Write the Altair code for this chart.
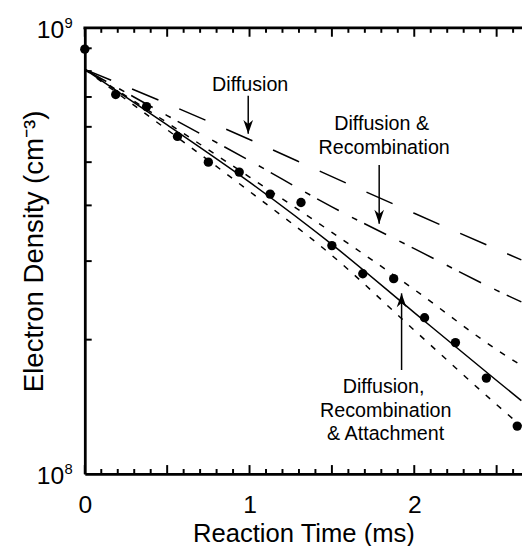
import altair as alt
import pandas as pd

# ---------------- data ----------------
obs_time = [0, 0.1875, 0.375, 0.5625, 0.75, 0.9375, 1.125, 1.3125, 1.5,
            1.6875, 1.875, 2.0625, 2.25, 2.4375, 2.625]
obs_density = [8.96e8, 7.09e8, 6.66e8, 5.71e8, 5.00e8, 4.75e8, 4.24e8, 4.06e8,
               3.25e8, 2.81e8, 2.74e8, 2.24e8, 1.97e8, 1.64e8, 1.28e8]

model_time = [0, 0.5, 1.0, 1.5, 2.0, 2.5, 2.65]
diffusion = [8.07e8, 6.76e8, 5.62e8, 4.64e8, 3.84e8, 3.19e8, 3.02e8]
diff_recomb = [8.07e8, 6.36e8, 5.04e8, 3.97e8, 3.20e8, 2.58e8, 2.43e8]
full_upper = [8.07e8, 6.13e8, 4.63e8, 3.48e8, 2.59e8, 1.90e8, 1.75e8]
full_model = [8.07e8, 6.06e8, 4.51e8, 3.27e8, 2.30e8, 1.62e8, 1.46e8]
full_lower = [8.07e8, 5.91e8, 4.30e8, 3.09e8, 2.10e8, 1.43e8, 1.28e8]

X_MAX = 2.654
Y_MIN, Y_MAX = 1e8, 1e9
x_tick_labels = [0, 1, 2]
x_major_ticks = [0, 0.5, 1.0, 1.5, 2.0, 2.5]
x_minor_ticks = [0.1, 0.2, 0.3, 0.4, 0.6, 0.7, 0.8, 0.9, 1.1, 1.2, 1.3, 1.4,
                 1.6, 1.7, 1.8, 1.9, 2.1, 2.2, 2.3, 2.4, 2.6]
y_minor_ticks = [2e8, 3e8, 4e8, 5e8, 6e8, 7e8, 8e8, 9e8]
y_label_values = [1e9, 1e8]
y_label_base = ["10", "10"]
y_label_exp = ["9", "8"]

ann_text = ["Diffusion", "Diffusion &", "Recombination",
            "Diffusion,", "Recombination", "& Attachment"]
ann_time = [1.004, 1.802, 1.817, 1.814, 1.827, 1.826]
ann_density = [7.22e8, 5.89e8, 5.22e8, 1.519e8, 1.345e8, 1.189e8]

arrow_time = [0.992, 1.787, 1.923]
arrow_from = [7.04e8, 4.93e8, 1.71e8]
arrow_to = [5.79e8, 3.64e8, 2.54e8]
arrow_dir = ["down", "down", "up"]

# ---------------- chart ----------------
FONT = "Liberation Sans"
W, H = 444, 453
PX_PER_MS = W / X_MAX
AXIS_W = 2.8
xs = alt.Scale(domain=[0, X_MAX], nice=False, zero=False)
ys = alt.Scale(type="log", domain=[Y_MIN, Y_MAX], nice=False)

x_axis = alt.Axis(values=x_tick_labels, labelFontSize=25, labelFont=FONT,
                  labelColor="black", ticks=False, tickSize=0, grid=False,
                  domainColor="black", domainWidth=AXIS_W, labelPadding=19,
                  labelFlush=False, format="d",
                  titleFont=FONT, titleFontSize=26, titleFontWeight="normal",
                  titleColor="black", titlePadding=4)
y_axis = alt.Axis(labels=False, ticks=False, tickSize=0, grid=False,
                  domainColor="black", domainWidth=AXIS_W,
                  titleFont=FONT, titleFontSize=28, titleFontWeight="normal",
                  titleColor="black", titlePadding=37)

XT = "Reaction Time (ms)"
YT = "Electron Density (cm\u207b\u00b3)"


def X(f):
    return alt.X(f, type="quantitative", scale=xs, axis=x_axis, title=XT)


def Y(f):
    return alt.Y(f, type="quantitative", scale=ys, axis=y_axis, title=YT)


def line_layer(vals, dash):
    df = pd.DataFrame({"t": model_time, "n": vals})
    kw = dict(color="black", strokeWidth=1.5, interpolate="monotone")
    if dash:
        kw["strokeDash"] = dash
    return alt.Chart(df).mark_line(**kw).encode(x=X("t"), y=Y("n"))


lines = [
    line_layer(diffusion, [29, 23]),
    line_layer(diff_recomb, [25, 15, 6, 8]),
    line_layer(full_upper, [6, 9]),
    line_layer(full_model, None),
    line_layer(full_lower, [6, 9]),
]

obs_df = pd.DataFrame({"t": obs_time, "n": obs_density})
points = alt.Chart(obs_df).mark_circle(size=90, color="black", opacity=1).encode(
    x=X("t"), y=Y("n"))


# inward tick marks drawn as short two-point segments
def ylen(px):
    return 10 ** (px / H)


seg_rows = []
k = 0
for vals, px in ((x_minor_ticks, 5), (x_major_ticks, 9)):
    for v in vals:
        seg_rows += [{"id": k, "t": v, "n": Y_MIN},
                     {"id": k, "t": v, "n": Y_MIN * ylen(px)}]
        k += 1
        seg_rows += [{"id": k, "t": v, "n": Y_MAX},
                     {"id": k, "t": v, "n": Y_MAX / ylen(px)}]
        k += 1
for v in y_minor_ticks:
    seg_rows += [{"id": k, "t": 0.0, "n": v},
                 {"id": k, "t": 7 / PX_PER_MS, "n": v}]
    k += 1
seg_df = pd.DataFrame(seg_rows)
tick_segments = alt.Chart(seg_df).mark_line(
    color="black", strokeWidth=2).encode(
    x=X("t"), y=Y("n"), detail="id:N")

top_df = pd.DataFrame({"t": [-1.4 / PX_PER_MS, X_MAX], "n": [Y_MAX, Y_MAX]})
top_line = alt.Chart(top_df).mark_line(color="black", strokeWidth=AXIS_W).encode(
    x=X("t"), y=Y("n"))

ylab_df = pd.DataFrame({"n": y_label_values, "t": 0.0, "base": y_label_base,
                        "exp": y_label_exp})
ylab_base = alt.Chart(ylab_df).mark_text(
    font=FONT, fontSize=25, align="right", baseline="middle",
    dx=-21, dy=2, color="black").encode(
    y=Y("n"), x=X("t"), text="base:N")
ylab_exp = alt.Chart(ylab_df).mark_text(
    font=FONT, fontSize=15, align="left", baseline="middle",
    dx=-20.5, dy=-5, color="black").encode(
    y=Y("n"), x=X("t"), text="exp:N")

ann_df = pd.DataFrame({"t": ann_time, "n": ann_density, "label": ann_text})
annotations = alt.Chart(ann_df).mark_text(
    font=FONT, fontSize=20, align="center", baseline="alphabetic",
    color="black").encode(x=X("t"), y=Y("n"), text="label:N")

DOWN = "M0,0 L-0.7,-2 L0,-1.4 L0.7,-2 Z"
UP = "M0,0 L-0.7,2 L0,1.4 L0.7,2 Z"
arr_df = pd.DataFrame({"t": arrow_time, "n": arrow_from, "n2": arrow_to,
                       "shape": [DOWN if d == "down" else UP for d in arrow_dir]})
shafts = alt.Chart(arr_df).mark_rule(color="black", strokeWidth=1.5).encode(
    x=X("t"), y=Y("n"), y2="n2:Q")
heads = alt.Chart(arr_df).mark_point(
    filled=True, color="black", opacity=1, size=196, strokeWidth=0).encode(
    x=X("t"), y=Y("n2"), shape=alt.Shape("shape:N", scale=None))

chart = alt.layer(
    tick_segments, top_line, *lines, points, ylab_base, ylab_exp, annotations,
    shafts, heads
).properties(
    width=W, height=H,
    autosize=alt.AutoSizeParams(type="none"),
    padding={"left": 78, "top": 16, "right": 0, "bottom": 69},
    background="white",
).configure_view(strokeWidth=0)

chart.save("out.html", embed_options={"renderer": "svg", "actions": False})
